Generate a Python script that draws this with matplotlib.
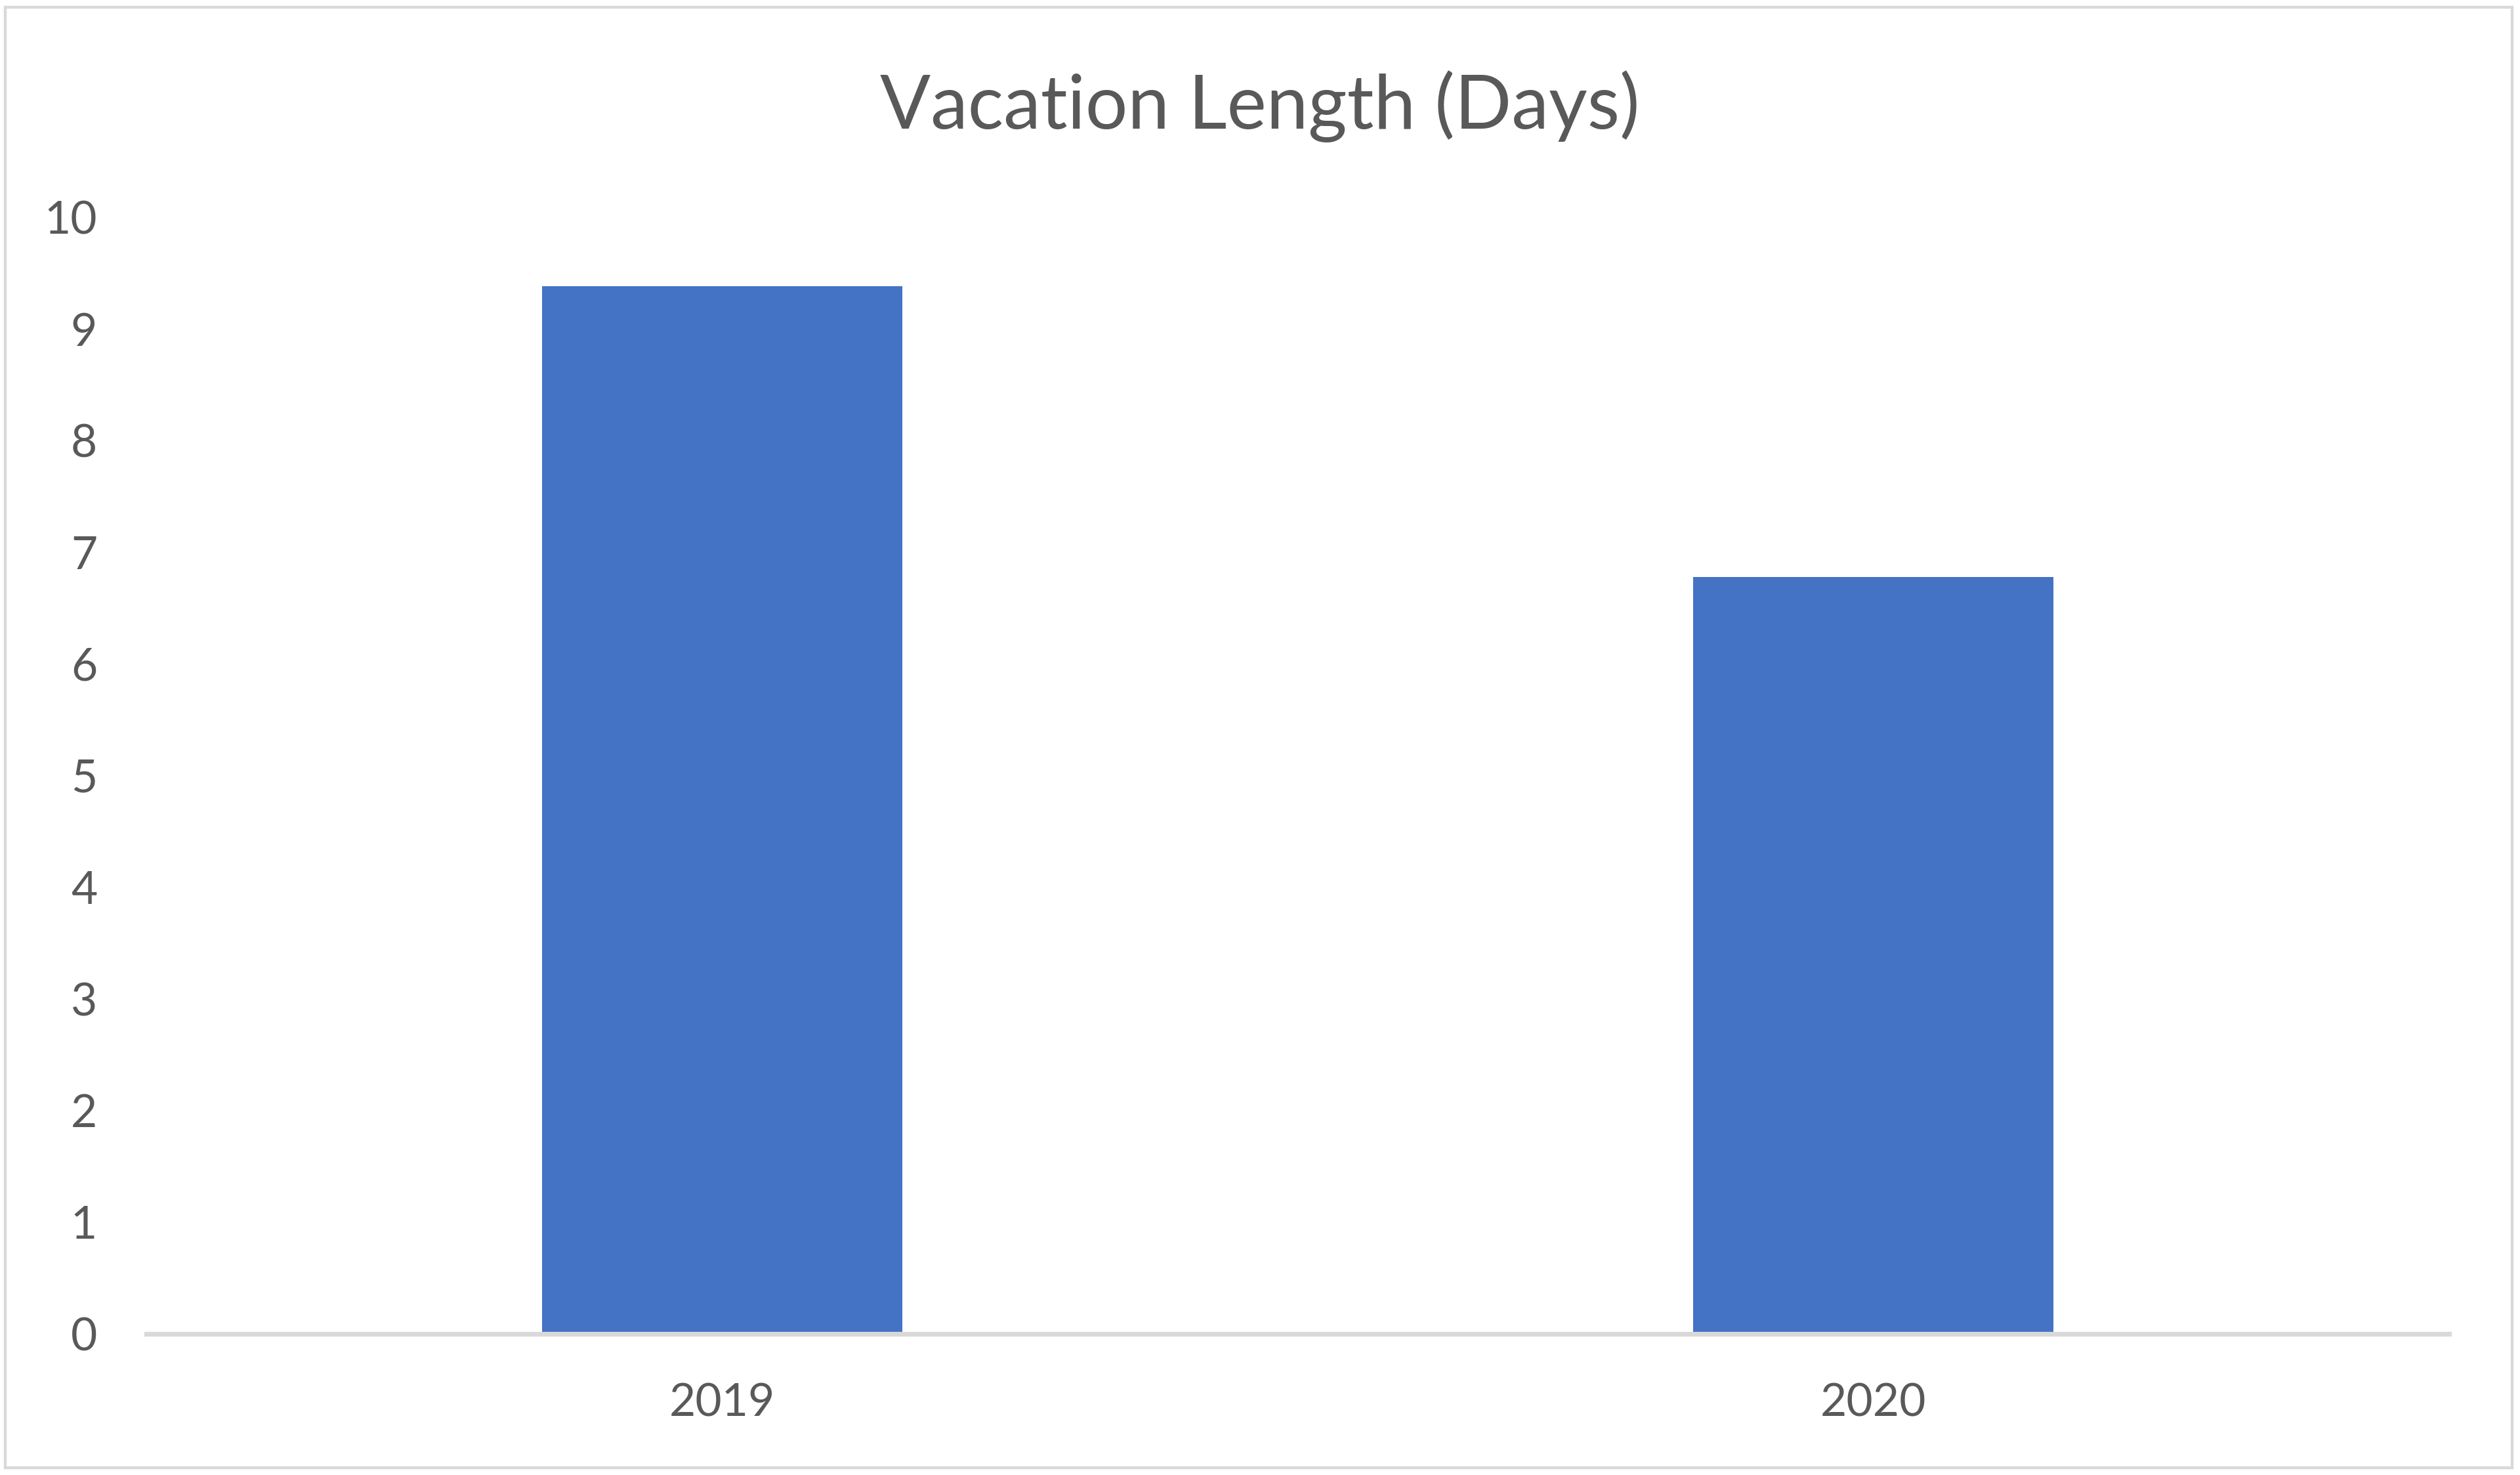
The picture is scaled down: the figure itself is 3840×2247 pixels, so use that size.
import matplotlib

matplotlib.use("Agg")
import matplotlib.pyplot as plt
from matplotlib.patches import Rectangle

years = ["2019", "2020"]
days = [9.38, 6.78]
y_ticks = list(range(0, 11))

BAR = "#4472C4"
TEXT = "#595959"
LINE = "#D9D9D9"

plt.rcParams["font.family"] = ["Lato", "DejaVu Sans"]

fig = plt.figure(figsize=(19.2, 11.235), dpi=200)
ax = fig.add_axes([0.0581, 0.0957, 0.9138, 0.757])

x = list(range(len(years)))
ax.bar(x, days, width=0.313, color=BAR, zorder=2)
ax.set_xlim(-0.5, len(years) - 0.5)
ax.set_ylim(0, 10)
ax.set_xticks(x)
ax.set_xticklabels(years)
ax.set_yticks(y_ticks)

for side in ("top", "right", "left"):
    ax.spines[side].set_visible(False)
ax.spines["bottom"].set_color(LINE)
ax.spines["bottom"].set_linewidth(2.6)
ax.tick_params(axis="both", length=0, labelsize=25, labelcolor=TEXT)
ax.tick_params(axis="y", pad=27)
ax.tick_params(axis="x", pad=27)

fig.text(0.5, 0.928, "Vacation Length (Days)", ha="center", va="center",
         fontsize=41, color=TEXT)

# chart-area frame
fig.patches.append(Rectangle((0.002, 0.005), 0.995, 0.99, transform=fig.transFigure,
                             fill=False, edgecolor=LINE, lw=1.6))

fig.savefig("out.png", dpi=200, facecolor="white")
